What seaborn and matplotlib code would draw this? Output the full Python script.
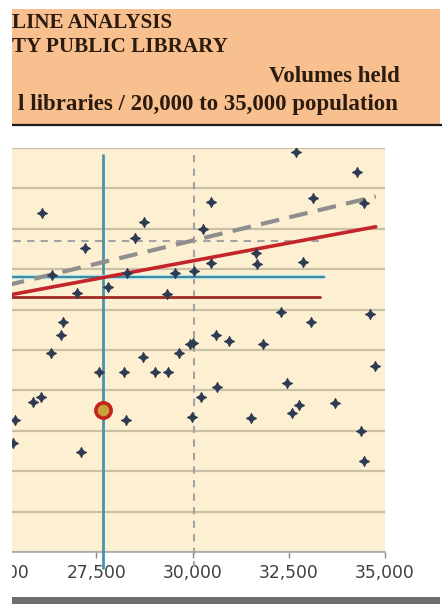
import matplotlib
matplotlib.use("Agg")
import matplotlib.pyplot as plt
from matplotlib.patches import Rectangle
from matplotlib.lines import Line2D
from matplotlib.ticker import FuncFormatter
import seaborn as sns
import pandas as pd

# Peer libraries: service population and volumes held (thousands)
population = [26083, 28738, 30478, 30262, 28497, 27207, 26342, 30470, 28289, 29543,
              30036, 27811, 27007, 29328, 26628, 26576, 26337, 32692, 34260, 33118,
              34457, 31646, 31664, 32879, 32295, 33074, 34605, 28704, 29660, 29932,
              30010, 30620, 27578, 28219, 29024, 29369, 30641, 25849, 26064, 30218,
              25389, 28271, 29992, 25345, 27103, 30953, 31820, 34735, 32443, 32770,
              32573, 33697, 31516, 34372, 34457]
volumes = [168.0, 163.5, 173.4, 159.7, 155.3, 150.6, 136.9, 143.1, 138.0, 138.0,
           139.1, 131.3, 128.0, 127.7, 113.9, 107.3, 98.3, 198.1, 188.2, 175.4,
           172.6, 148.2, 142.5, 143.5, 118.6, 114.0, 117.8, 96.4, 98.3, 103.2,
           103.7, 107.6, 89.1, 89.1, 89.1, 89.1, 81.8, 74.4, 76.9, 76.9,
           65.3, 65.3, 67.0, 54.1, 49.6, 104.6, 103.0, 92.1, 83.5, 72.8,
           69.0, 73.6, 66.2, 59.9, 45.0]

# The library under review
subject_pop = 27682
subject_vol = 70.3

# Trend lines (endpoints) and reference levels
trend_pop = [25150, 34760]
trend_all = [126.9, 161.0]
trend_alt = [131.9, 176.0]
predicted_vol = 135.9
peer_average = 126.1
median_pop = 30050
median_vol = 154.2
ref_end_pop = [33410, 33310, 33350]

x_ticks = [25000, 27500, 30000, 32500, 35000]

W, H = 442, 604
fig = plt.figure(figsize=(W / 100, H / 100), dpi=100)
sns.set_style("white")

def fx(px):
    return px / W

def fy(py):
    return 1 - py / H

# Header band
fig.add_artist(Rectangle((fx(12), fy(124)), fx(440) - fx(12), fy(9) - fy(124),
                         transform=fig.transFigure, facecolor="#F8BF8F",
                         edgecolor="none", zorder=1))
fig.add_artist(Line2D([fx(12), fx(442)], [fy(125), fy(125)], transform=fig.transFigure,
                      color="#1A1A1A", linewidth=1.6, zorder=2))
hfont = dict(family="Liberation Serif", weight="bold", color="#2B1B0E")
fig.text(fx(12), fy(28), "LINE ANALYSIS", ha="left", va="baseline", zorder=3,
         size=15.2, **hfont)
fig.text(fx(12), fy(52), "TY PUBLIC LIBRARY", ha="left", va="baseline", zorder=3,
         size=15.2, **hfont)
fig.text(fx(400), fy(82), "Volumes held", ha="right", va="baseline", zorder=3,
         size=16.5, **hfont)
fig.text(fx(398), fy(110), "l libraries / 20,000 to 35,000 population", ha="right",
         va="baseline", zorder=3, size=16.5, **hfont)

# Plot area
ax = fig.add_axes([fx(0), fy(552), fx(385) - fx(0), fy(148) - fy(552)])
ax.set_facecolor("#FDF0D2")
ax.set_xlim(25000, 35000)
ax.set_ylim(0, 200)
ax.set_yticks(range(0, 201, 20))
ax.yaxis.grid(True, color="#C9C0A6", linewidth=1.6)
ax.xaxis.grid(False)
ax.set_axisbelow(True)
for s in ["top", "left", "right"]:
    ax.spines[s].set_visible(False)
ax.spines["bottom"].set_color("#A8A8A8")
ax.spines["bottom"].set_linewidth(1.2)
ax.set_xticks(x_ticks)
ax.xaxis.set_major_formatter(FuncFormatter(lambda v, p: f"{int(v):,}"))
ax.tick_params(axis="x", direction="out", length=4, width=1, color="#8A8A8A",
               labelsize=12.3, labelcolor="#404040", pad=5, bottom=True)
ax.tick_params(axis="y", left=False, labelleft=False)

# Median reference lines
ax.plot([median_pop, median_pop], [196.5, -7.5], color="#A3A3A3", linewidth=1.5,
        linestyle=(0, (3.5, 3)), clip_on=False, zorder=2)
ax.plot([25000, ref_end_pop[2]], [median_vol, median_vol], color="#A3A3A3",
        linewidth=1.5, linestyle=(0, (3.5, 3)), zorder=2)

# Subject library cross-hairs
ax.plot([subject_pop, subject_pop], [196.5, -8], color="#4A92A8", linewidth=2,
        clip_on=False, zorder=3)
ax.plot([25000, ref_end_pop[0]], [predicted_vol, predicted_vol], color="#BDEBF2",
        linewidth=3.2, zorder=3)
ax.plot([25000, ref_end_pop[0]], [predicted_vol, predicted_vol], color="#3F8A9C",
        linewidth=1.6, zorder=3)
ax.plot([25000, ref_end_pop[1]], [peer_average, peer_average], color="#9E2B22",
        linewidth=2, zorder=3)

# Trend lines
trend = pd.DataFrame({"population": trend_pop, "all": trend_all, "alt": trend_alt})
sns.lineplot(data=trend, x="population", y="alt", ax=ax, color="#8E8E8E",
             linewidth=3, linestyle=(0, (4.5, 2.5)), zorder=4)
sns.lineplot(data=trend, x="population", y="all", ax=ax, color="#C4252A",
             linewidth=2.6, zorder=5)

# Peer points
peers = pd.DataFrame({"population": population, "volumes": volumes})
sns.scatterplot(data=peers, x="population", y="volumes", ax=ax, marker=(4, 1, 0),
                s=55, color="#2E3B52", edgecolor="#2E3B52", linewidth=0.6, zorder=6)
ax.scatter([subject_pop], [subject_vol], s=120, facecolor="#C9A23A",
           edgecolor="#C4231B", linewidth=2.6, zorder=7)
ax.set_xlabel("")
ax.set_ylabel("")

# Footer bar
fig.add_artist(Rectangle((fx(12), 0), fx(440) - fx(12), fy(597),
                         transform=fig.transFigure, facecolor="#6E6E6E",
                         edgecolor="none", zorder=8))
# Left margin
fig.add_artist(Rectangle((0, 0), fx(12), 1, transform=fig.transFigure,
                         facecolor="white", edgecolor="none", zorder=100))

fig.savefig("out.png", dpi=100)
